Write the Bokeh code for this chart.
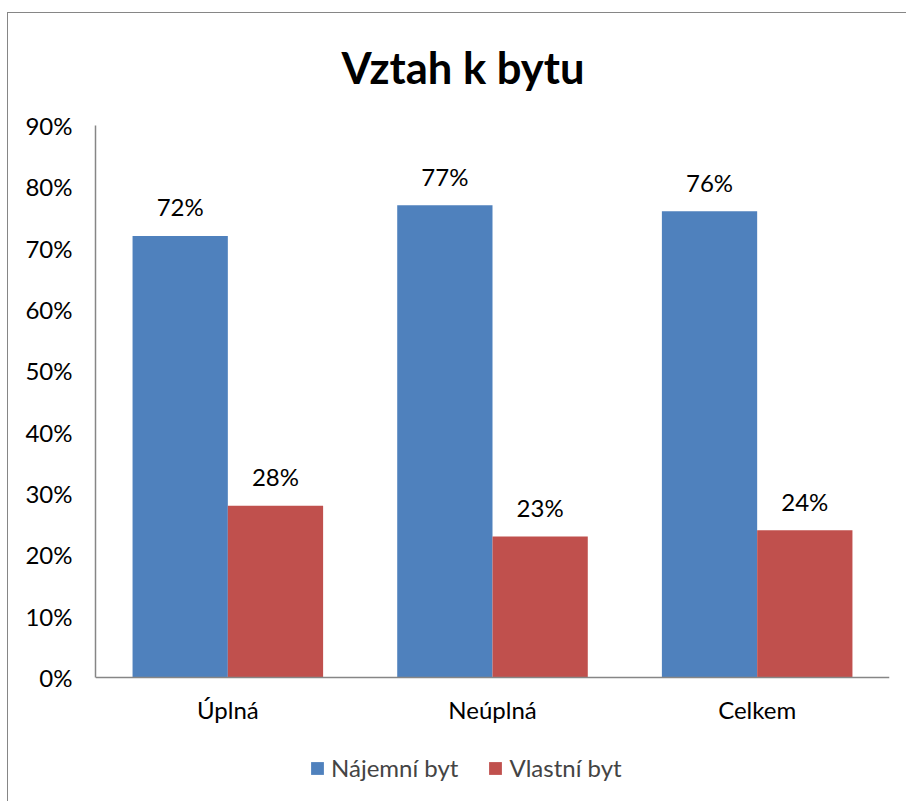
from bokeh.plotting import figure
from bokeh.models import (ColumnDataSource, FactorRange, NumeralTickFormatter, Legend,
                          LegendItem, InlineStyleSheet, FixedTicker)
from bokeh.transform import dodge
from bokeh.core.properties import value
from bokeh.embed import file_html
from bokeh.resources import INLINE

title = "Vztah k bytu"
categories = ["Úplná", "Neúplná", "Celkem"]
series_names = ["Nájemní byt", "Vlastní byt"]
najemni = [0.72, 0.77, 0.76]
vlastni = [0.28, 0.23, 0.24]
y_ticks = [0.0, 0.1, 0.2, 0.3, 0.4, 0.5, 0.6, 0.7, 0.8, 0.9]

colors = ["#4F81BD", "#C0504D"]
FONT = "Lato"

src = ColumnDataSource(dict(
    cat=categories,
    a=najemni,
    b=vlastni,
    a_lbl=[f"{round(v*100)}%" for v in najemni],
    b_lbl=[f"{round(v*100)}%" for v in vlastni],
))

# frame spans 125..795 px; value 0 sits at 677 px, 0.9 at 125 px
y_top = y_ticks[-1]
px_per_unit = (677 - 125) / y_top
y_bottom = y_top - (795 - 125) / px_per_unit

p = figure(x_range=FactorRange(*categories, range_padding=0), y_range=(y_bottom, y_top),
           width=900, height=795, output_backend="svg", toolbar_location=None,
           min_border_left=95, min_border_right=11, min_border_top=125, min_border_bottom=0)

p.title.text = title
p.title.text_font = FONT
p.title.text_font_size = "43.5px"
p.title.text_font_style = "bold"
p.title.align = "left"
p.title.offset = 246
p.title.standoff = 65
p.title.text_color = "#000000"

bw = 0.36
r1 = p.vbar(x=dodge("cat", -bw/2, range=p.x_range), top="a", width=bw, source=src,
            fill_color=colors[0], line_color=None)
r2 = p.vbar(x=dodge("cat", bw/2, range=p.x_range), top="b", width=bw, source=src,
            fill_color=colors[1], line_color=None)

p.text(x=dodge("cat", -bw/2, range=p.x_range), y="a", text="a_lbl", source=src,
       text_align="center", text_baseline="alphabetic", y_offset=-29,
       text_font=value(FONT), text_font_size="24px", text_color="#000000")
p.text(x=dodge("cat", bw/2, range=p.x_range), y="b", text="b_lbl", source=src,
       text_align="center", text_baseline="alphabetic", y_offset=-29,
       text_font=value(FONT), text_font_size="24px", text_color="#000000")

p.outline_line_color = None
p.xgrid.grid_line_color = None
p.ygrid.grid_line_color = None

for ax in (p.xaxis[0], p.yaxis[0]):
    ax.axis_line_color = "#868686"
    ax.axis_line_width = 1.5
    ax.major_tick_line_color = None
    ax.minor_tick_line_color = None
    ax.major_label_text_font = FONT
    ax.major_label_text_font_size = "24px"
    ax.major_label_text_color = "#000000"

p.yaxis[0].ticker = FixedTicker(ticks=y_ticks)
p.yaxis[0].formatter = NumeralTickFormatter(format="0%")
p.yaxis[0].bounds = (0, y_top)
p.yaxis[0].major_label_standoff = 17
p.xaxis[0].fixed_location = 0
p.xaxis[0].major_label_standoff = 11

legend = Legend(items=[LegendItem(label=series_names[0], renderers=[r1]),
                       LegendItem(label=series_names[1], renderers=[r2])],
                orientation="horizontal", location=(214, 13),
                label_text_font=FONT, label_text_font_size="24px",
                glyph_width=16, glyph_height=16, label_standoff=6, spacing=29,
                padding=0, margin=0, border_line_color=None, background_fill_alpha=0)
p.add_layout(legend, "center")

p.stylesheets = [InlineStyleSheet(css=":host::after{content:'';position:absolute;left:7px;top:12px;"
                                      "width:2000px;height:2000px;border:1.5px solid #868686;"
                                      "pointer-events:none;}")]

open("out.html", "w").write(file_html(p, INLINE))
